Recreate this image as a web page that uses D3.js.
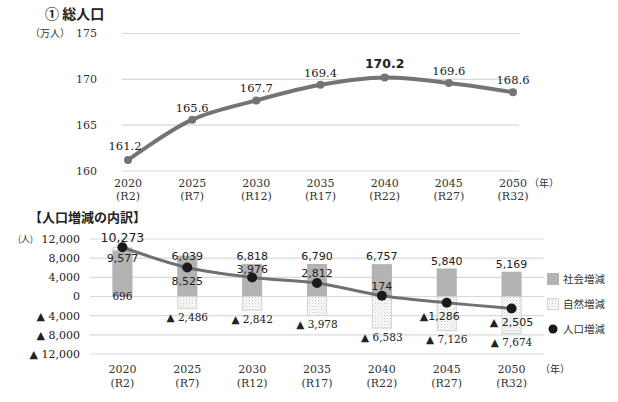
<!DOCTYPE html>
<html><head><meta charset="utf-8">
<script src="https://cdn.jsdelivr.net/npm/d3@7"></script>
<style>
html,body{margin:0;padding:0;background:#fff;}
svg{display:block;}
</style></head>
<body>
<svg id="c" width="618" height="402"></svg>
<script>
// ---- data ----
const years = ["2020","2025","2030","2035","2040","2045","2050"];
const reiwa = ["(R2)","(R7)","(R12)","(R17)","(R22)","(R27)","(R32)"];
const totalPop = [161.2,165.6,167.7,169.4,170.2,169.6,168.6];
const topTicks = [160,165,170,175];
const socialChange = [9577,8525,6818,6790,6757,5840,5169];
const naturalChange = [696,-2486,-2842,-3978,-6583,-7126,-7674];
const popChange = [10273,6039,3976,2812,174,-1286,-2505];
const bottomTicks = [-12000,-8000,-4000,0,4000,8000,12000];
const legendLabels = ["社会増減","自然増減","人口増減"];

const svg = d3.select("#c");
const serif = "'DejaVu Serif','Liberation Serif',serif";
const sans = "'DejaVu Sans','Noto Sans',sans-serif";
const cjk = "'Noto Sans CJK JP','Noto Sans',sans-serif";
const fmt = d3.format(",");
const tri = v => v < 0 ? "▲ " + fmt(-v) : fmt(v);

// pattern
const defs = svg.append("defs");
const pat = defs.append("pattern").attr("id","dots").attr("patternUnits","userSpaceOnUse")
  .attr("width",3).attr("height",3);
pat.append("rect").attr("width",3).attr("height",3).attr("fill","#fbfbfb");
pat.append("rect").attr("width",1).attr("height",1).attr("fill","#c9c9c9");
pat.append("rect").attr("x",1.5).attr("y",1.5).attr("width",1).attr("height",1).attr("fill","#d6d6d6");

// ---------- top chart ----------
svg.append("text").attr("x",45).attr("y",19).attr("font-family",cjk).attr("font-weight",700)
  .attr("font-size",14).attr("fill","#222").text("① 総人口");

const xT = d3.scalePoint().domain(years).range([128,513]);
const yT = d3.scaleLinear().domain([160,175]).range([171,33.5]);

svg.append("g").selectAll("line").data(topTicks).join("line")
  .attr("x1",122).attr("x2",519).attr("y1",d=>yT(d)).attr("y2",d=>yT(d))
  .attr("stroke","#d9d9d9").attr("stroke-width",1.2);
svg.append("g").selectAll("text").data(topTicks).join("text")
  .attr("x",97).attr("y",d=>yT(d)).attr("dy","0.35em").attr("text-anchor","end")
  .attr("font-family",serif).attr("font-size",11).attr("fill","#333").text(d=>d);
svg.append("text").attr("x",30).attr("y",yT(175)).attr("dy","0.35em").attr("font-family",cjk)
  .attr("font-size",10).attr("fill","#333").text("（万人）");

const gxT = svg.append("g");
gxT.selectAll("text.y").data(years).join("text").attr("class","y")
  .attr("x",d=>xT(d)).attr("y",183).attr("dy","0.35em").attr("text-anchor","middle")
  .attr("font-family",serif).attr("font-size",11).attr("fill","#333").text(d=>d);
gxT.selectAll("text.r").data(reiwa).join("text").attr("class","r")
  .attr("x",(d,i)=>xT(years[i])).attr("y",196).attr("dy","0.35em").attr("text-anchor","middle")
  .attr("font-family",serif).attr("font-size",11).attr("fill","#333").text(d=>d);
svg.append("text").attr("x",529).attr("y",183).attr("dy","0.35em").attr("font-family",cjk)
  .attr("font-size",10).attr("fill","#333").text("（年）");

const lineT = d3.line().x((d,i)=>xT(years[i])).y(d=>yT(d)).curve(d3.curveCatmullRom.alpha(0.5));
svg.append("path").datum(totalPop).attr("d",lineT).attr("fill","none")
  .attr("stroke","#747474").attr("stroke-width",4).attr("stroke-linecap","round");
svg.append("g").selectAll("circle").data(totalPop).join("circle")
  .attr("cx",(d,i)=>xT(years[i])).attr("cy",d=>yT(d)).attr("r",4).attr("fill","#747474");
const maxI = totalPop.indexOf(d3.max(totalPop));
svg.append("g").selectAll("text").data(totalPop).join("text")
  .attr("x",(d,i)=>xT(years[i]) + (i===0?-3:0))
  .attr("y",(d,i)=>yT(d) - (i===0?14:(i===maxI?14:12))).attr("dy","0.35em")
  .attr("text-anchor","middle")
  .attr("font-family",(d,i)=>i===maxI?sans:serif)
  .attr("font-weight",(d,i)=>i===maxI?700:400)
  .attr("font-size",(d,i)=>i===maxI?12.5:11.5).attr("fill","#222")
  .text(d=>d.toFixed(1));

// ---------- bottom chart ----------
svg.append("text").attr("x",29).attr("y",222).attr("font-family",cjk).attr("font-weight",700)
  .attr("font-size",13).attr("fill","#222").text("【人口増減の内訳】");

const xB = d3.scaleBand().domain(years).range([90,544]).paddingInner(0.69).paddingOuter(0.345);
const yB = d3.scaleLinear().domain([-12000,12000]).range([354,239]);
const cx = d => xB(d) + xB.bandwidth()/2;

svg.append("g").selectAll("line").data(bottomTicks).join("line")
  .attr("x1",90).attr("x2",544).attr("y1",d=>yB(d)).attr("y2",d=>yB(d))
  .attr("stroke","#d9d9d9").attr("stroke-width",1.2);
svg.append("g").selectAll("text").data(bottomTicks).join("text")
  .attr("x",80).attr("y",d=>yB(d)).attr("dy","0.35em").attr("text-anchor","end")
  .attr("font-family",serif).attr("font-size",11).attr("fill","#222")
  .text(d=>d<0?"▲ "+fmt(-d):fmt(d));
svg.append("text").attr("x",18).attr("y",yB(12000)).attr("dy","0.35em").attr("font-family",cjk)
  .attr("font-size",9).attr("fill","#333").text("(人)");

// bars (stacked: positives from 0 upward, negatives from 0 downward)
const gBars = svg.append("g");
years.forEach((yr,i)=>{
  const s = socialChange[i], n = naturalChange[i];
  gBars.append("rect").attr("x",xB(yr)).attr("width",xB.bandwidth())
    .attr("y",yB(s)).attr("height",yB(0)-yB(s)).attr("fill","#b3b3b3");
  const n0 = n>=0 ? s : 0, n1 = n>=0 ? s+n : n;
  gBars.append("rect").attr("x",xB(yr)+0.5).attr("width",xB.bandwidth()-1)
    .attr("y",yB(Math.max(n0,n1))).attr("height",Math.abs(yB(n0)-yB(n1)))
    .attr("fill","url(#dots)").attr("stroke","#d2d2d2").attr("stroke-width",1);
});

const lineB = d3.line().x((d,i)=>cx(years[i])).y(d=>yB(d)).curve(d3.curveCatmullRom.alpha(0.5));
svg.append("path").datum(popChange).attr("d",lineB).attr("fill","none")
  .attr("stroke","#707070").attr("stroke-width",3);
svg.append("g").selectAll("circle").data(popChange).join("circle")
  .attr("cx",(d,i)=>cx(years[i])).attr("cy",d=>yB(d)).attr("r",5).attr("fill","#1a1a1a");

// labels
const lab = (x,y,t,f,fs)=>svg.append("text").attr("x",x).attr("y",y).attr("dy","0.35em")
  .attr("text-anchor","middle").attr("font-family",f||sans).attr("font-size",fs||11)
  .attr("fill","#222").text(t);
// social labels
years.forEach((yr,i)=>{
  let y = yB(socialChange[i]) - 7.5;
  if(i===0) y = yB(socialChange[i]) + 8;
  if(i===1) y = yB(popChange[i]) + 14;
  lab(cx(yr), y, tri(socialChange[i]), sans, 11);
});
// natural labels
years.forEach((yr,i)=>{
  const v = naturalChange[i];
  let y = v<0 ? yB(v) + 9 : yB(0);
  lab(cx(yr), y, tri(v), serif, 10.5);
});
// total labels
years.forEach((yr,i)=>{
  const v = popChange[i];
  let y = yB(v) - 10, x = cx(yr);
  if(i===1) y = yB(v) - 11;
  if(i===2) y = yB(v) - 8.5;
  if(i>=5){ y = yB(v) + 13.5; }
  if(i===5) x -= 7;
  lab(x, y, v<0 ? (i===5?"▲"+fmt(-v):"▲ "+fmt(-v)) : fmt(v), sans, i===0?12.5:11);
});

// bottom x labels
svg.append("g").selectAll("text").data(years).join("text")
  .attr("x",d=>cx(d)).attr("y",369).attr("dy","0.35em").attr("text-anchor","middle")
  .attr("font-family",serif).attr("font-size",11).attr("fill","#333").text(d=>d);
svg.append("g").selectAll("text").data(reiwa).join("text")
  .attr("x",(d,i)=>cx(years[i])).attr("y",383).attr("dy","0.35em").attr("text-anchor","middle")
  .attr("font-family",serif).attr("font-size",11).attr("fill","#333").text(d=>d);
svg.append("text").attr("x",540).attr("y",369).attr("dy","0.35em").attr("font-family",cjk)
  .attr("font-size",10).attr("fill","#333").text("（年）");

// legend
const lg = svg.append("g");
lg.append("rect").attr("x",547).attr("y",273).attr("width",12).attr("height",12).attr("fill","#b3b3b3");
lg.append("rect").attr("x",547.5).attr("y",298.5).attr("width",11).attr("height",11)
  .attr("fill","url(#dots)").attr("stroke","#d2d2d2");
lg.append("circle").attr("cx",553).attr("cy",329).attr("r",4.5).attr("fill","#1a1a1a");
[279,304,329].forEach((y,i)=>{
  lg.append("text").attr("x",563).attr("y",y).attr("dy","0.35em").attr("font-family",cjk)
    .attr("font-size",10.5).attr("fill","#333").text(legendLabels[i]);
});
</script>
</body></html>
